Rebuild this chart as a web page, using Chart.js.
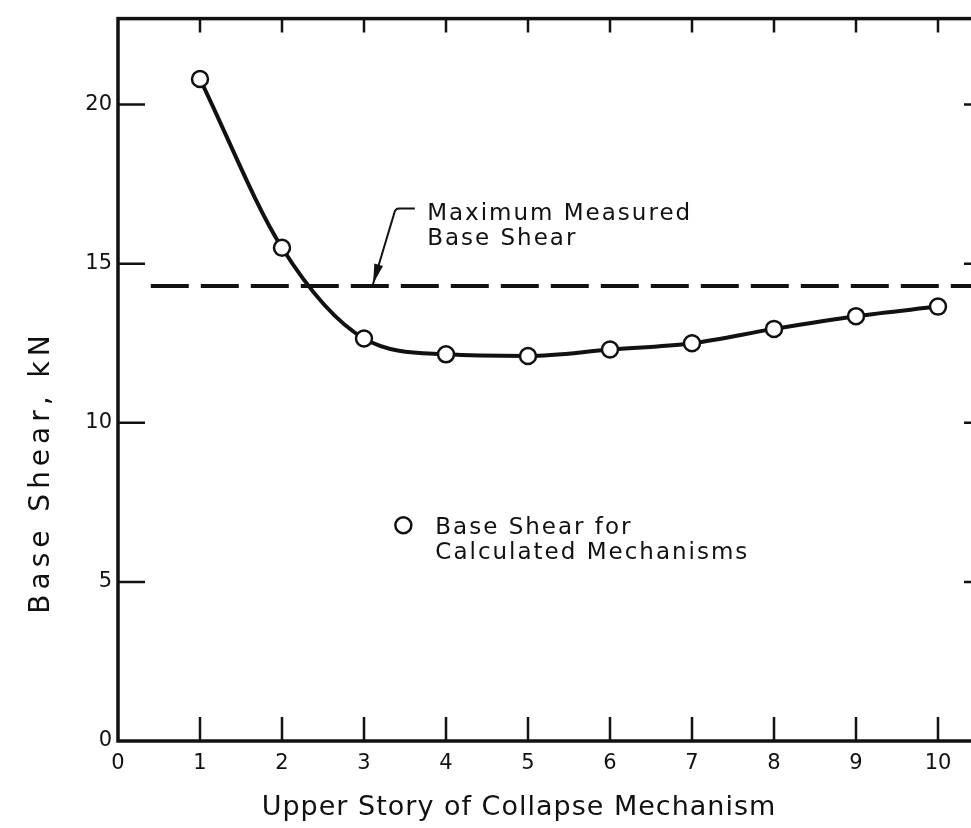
<!DOCTYPE html>
<html>
<head>
<meta charset="utf-8">
<title>Base Shear vs Upper Story of Collapse Mechanism</title>
<script src="https://cdn.jsdelivr.net/npm/chart.js@4.4.1/dist/chart.umd.min.js"></script>
<style>
  html, body { margin: 0; padding: 0; background: #fff; overflow: hidden; }
  #wrap { width: 990px; height: 828px; }
</style>
</head>
<body>
<div id="wrap"><canvas id="myChart" width="990" height="828"></canvas></div>
<script>
// Upper story of the collapse mechanism and the calculated base shear (kN)
const stories = [1, 2, 3, 4, 5, 6, 7, 8, 9, 10];
const baseShear = [20.8, 15.5, 12.65, 12.15, 12.1, 12.3, 12.5, 12.95, 13.35, 13.65];

// Maximum measured base shear (kN) and the story range its dashed line spans
const measuredMax = 14.3;
const measuredRange = [0.4, 10.5];

// Axis tick values
const xTicks = [0, 1, 2, 3, 4, 5, 6, 7, 8, 9, 10];
const yTicks = [0, 5, 10, 15, 20];

const FONT = "'DejaVu Sans', sans-serif";
const INK = "#111";

const chrt = document.getElementById("myChart");

// Draws the boxed frame with inward ticks, the axis titles and the notes
const framePlugin = {
  id: "frame",
  afterDatasetsDraw(chart) {
    const { ctx, chartArea: a, scales: { x, y } } = chart;
    ctx.save();
    ctx.strokeStyle = INK;
    ctx.fillStyle = INK;
    ctx.lineCap = "butt";

    // box
    ctx.lineWidth = 3.5;
    ctx.strokeRect(a.left, a.top, a.right - a.left, a.bottom - a.top);

    // inward ticks
    ctx.lineWidth = 2.5;
    ctx.beginPath();
    xTicks.slice(1).forEach((v) => {
      const px = x.getPixelForValue(v);
      ctx.moveTo(px, a.bottom);
      ctx.lineTo(px, a.bottom - 24);
      ctx.moveTo(px, a.top);
      ctx.lineTo(px, a.top + 14);
    });
    yTicks.slice(1).forEach((v) => {
      const py = y.getPixelForValue(v);
      ctx.moveTo(a.left, py);
      ctx.lineTo(a.left + 27, py);
      ctx.moveTo(a.right, py);
      ctx.lineTo(a.right - 15, py);
    });
    ctx.stroke();

    // leader arrow pointing at the measured line
    const tipX = x.getPixelForValue(3.11);
    const tipY = y.getPixelForValue(measuredMax) - 2;
    const kneeX = x.getPixelForValue(3.38);
    const kneeY = y.getPixelForValue(16.73);
    const endX = x.getPixelForValue(3.62);
    ctx.lineWidth = 2;
    ctx.beginPath();
    ctx.moveTo(endX, kneeY);
    ctx.lineTo(kneeX + 4, kneeY);
    ctx.quadraticCurveTo(kneeX, kneeY, kneeX - 1, kneeY + 5);
    ctx.lineTo(tipX, tipY);
    ctx.stroke();
    const ang = Math.atan2(tipY - kneeY, tipX - kneeX);
    ctx.beginPath();
    ctx.moveTo(tipX, tipY);
    ctx.lineTo(tipX - 20 * Math.cos(ang) + 4.5 * Math.sin(ang), tipY - 20 * Math.sin(ang) - 4.5 * Math.cos(ang));
    ctx.lineTo(tipX - 20 * Math.cos(ang) - 4.5 * Math.sin(ang), tipY - 20 * Math.sin(ang) + 4.5 * Math.cos(ang));
    ctx.closePath();
    ctx.fill();

    // notes
    ctx.font = "23px " + FONT;
    ctx.letterSpacing = "2px";
    ctx.textAlign = "left";
    ctx.textBaseline = "alphabetic";
    const noteX = x.getPixelForValue(3.77);
    ctx.fillText("Maximum Measured", noteX, y.getPixelForValue(16.36));
    ctx.fillText("Base Shear", noteX, y.getPixelForValue(15.58));

    const keyX = x.getPixelForValue(3.87);
    ctx.fillText("Base Shear for", keyX, y.getPixelForValue(6.5));
    ctx.fillText("Calculated Mechanisms", keyX, y.getPixelForValue(5.72));
    ctx.lineWidth = 2.5;
    ctx.fillStyle = "#fff";
    ctx.beginPath();
    ctx.arc(x.getPixelForValue(3.48), y.getPixelForValue(6.78), 8, 0, Math.PI * 2);
    ctx.fill();
    ctx.stroke();

    // axis titles
    ctx.fillStyle = INK;
    ctx.font = "27px " + FONT;
    ctx.letterSpacing = "1px";
    ctx.textAlign = "center";
    ctx.fillText("Upper Story of Collapse Mechanism", 519, 815);

    ctx.font = "28px " + FONT;
    ctx.letterSpacing = "5px";
    ctx.translate(49, 472);
    ctx.rotate(-Math.PI / 2);
    ctx.fillText("Base Shear, kN", 0, 0);
    ctx.restore();
  },
};

new Chart(chrt, {
  type: "line",
  data: {
    datasets: [
      {
        label: "Maximum Measured Base Shear",
        data: measuredRange.map((s) => ({ x: s, y: measuredMax })),
        borderColor: INK,
        borderWidth: 4,
        borderDash: [38, 12],
        pointRadius: 0,
        fill: false,
      },
      {
        label: "Base Shear for Calculated Mechanisms",
        data: stories.map((s, i) => ({ x: s, y: baseShear[i] })),
        borderColor: INK,
        borderWidth: 4,
        cubicInterpolationMode: "monotone",
        pointRadius: 8,
        pointBorderWidth: 2.5,
        pointBackgroundColor: "#fff",
        pointBorderColor: INK,
        fill: false,
      },
    ],
  },
  options: {
    responsive: false,
    animation: false,
    layout: { padding: { top: 11, right: 11, left: 0, bottom: 0 } },
    plugins: {
      legend: { display: false },
      tooltip: { enabled: false },
    },
    scales: {
      x: {
        type: "linear",
        min: 0,
        max: 10.5,
        afterFit: (s) => { s.height = 87; },
        afterBuildTicks: (s) => { s.ticks = xTicks.map((v) => ({ value: v })); },
        grid: { display: false, drawTicks: false },
        border: { display: false },
        ticks: {
          padding: 10,
          color: INK,
          maxRotation: 0,
          autoSkip: false,
          font: { family: FONT, size: 21 },
        },
      },
      y: {
        type: "linear",
        min: 0,
        max: 22.7,
        afterFit: (s) => { s.width = 118; },
        afterBuildTicks: (s) => { s.ticks = yTicks.map((v) => ({ value: v })); },
        grid: { display: false, drawTicks: false },
        border: { display: false },
        ticks: {
          padding: 6,
          color: INK,
          font: { family: FONT, size: 21 },
        },
      },
    },
  },
  plugins: [framePlugin],
});
</script>
</body>
</html>
